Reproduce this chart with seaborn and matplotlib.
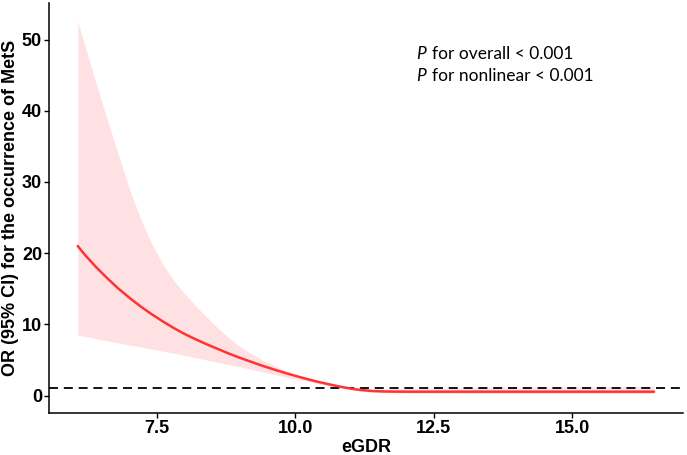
import numpy as np
import pandas as pd
import matplotlib
matplotlib.use("Agg")
import matplotlib.pyplot as plt
import seaborn as sns

egdr = [6.07, 6.2, 6.4, 6.6, 6.8, 7.0, 7.2, 7.4, 7.6, 7.8, 8.0, 8.2, 8.4, 8.6, 8.8,
        9.0, 9.2, 9.4, 9.6, 9.8, 10.0, 10.2, 10.4, 10.6, 10.8, 11.0, 11.2, 11.4,
        11.6, 11.8, 12.0, 12.5, 13.0, 13.5, 14.0, 14.5, 15.0, 15.5, 16.0, 16.48]
odds = [21.0, 19.75, 18.05, 16.5, 15.05, 13.75, 12.55, 11.45, 10.45, 9.5, 8.65, 7.9, 7.2, 6.55, 5.9,
        5.3, 4.75, 4.2, 3.7, 3.22, 2.77, 2.35, 1.95, 1.6, 1.27, 0.98, 0.77, 0.64,
        0.58, 0.56, 0.55, 0.55, 0.55, 0.55, 0.55, 0.55, 0.55, 0.55, 0.55, 0.55]
upper = [52.5, 49.1, 43.9, 38.8, 33.9, 29.1, 24.9, 21.4, 18.5, 16.2, 14.3, 12.6, 11.0, 9.5, 8.1,
         6.9, 5.9, 5.0, 4.3, 3.6, 3.0, 2.5, 2.05, 1.7, 1.4, 1.12, 0.98, 0.93,
         0.95, 1.0, 1.03, 1.08, 1.12, 1.15, 1.17, 1.2, 1.22, 1.25, 1.27, 1.3]
lower = [8.5, 8.3, 8.0, 7.7, 7.4, 7.1, 6.85, 6.55, 6.25, 5.95, 5.65, 5.3, 5.0, 4.65, 4.35,
         4.05, 3.7, 3.35, 3.0, 2.65, 2.3, 2.0, 1.7, 1.4, 1.1, 0.82, 0.62, 0.5,
         0.42, 0.38, 0.35, 0.33, 0.31, 0.3, 0.3, 0.3, 0.3, 0.3, 0.3, 0.3]
ref_line = 1
x_ticks = [7.5, 10.0, 12.5, 15.0]
y_ticks = [0, 10, 20, 30, 40, 50]
annot = ["for overall < 0.001", "for nonlinear < 0.001"]

df = pd.DataFrame({"eGDR": egdr, "OR": odds, "upper": upper, "lower": lower})

sns.set_style("ticks")
plt.rcParams['font.family'] = ['Liberation Sans', 'DejaVu Sans']
plt.rcParams['text.color'] = 'black'
plt.rcParams['axes.labelcolor'] = 'black'

fig = plt.figure(figsize=(6.87, 4.55), dpi=100)
ax = fig.add_axes([0.0713, 0.093, 0.9227, 0.9])

ax.fill_between(df["eGDR"], df["lower"], df["upper"], color="#FFE1E3", lw=0, zorder=1)
ax.axhline(ref_line, color="black", lw=1.3, ls=(0, (5, 3.2)), zorder=2)
sns.lineplot(data=df, x="eGDR", y="OR", color="#FF3333", lw=1.8, ax=ax, zorder=3)

ax.set_xlim(5.55, 17.0)
ax.set_ylim(-2.4, 55.1)
ax.set_xticks(x_ticks)
ax.set_xticklabels([f"{t:.1f}" for t in x_ticks])
ax.set_yticks(y_ticks)
for s in ["top", "right"]:
    ax.spines[s].set_visible(False)
for s in ["left", "bottom"]:
    ax.spines[s].set_linewidth(1.1)
    ax.spines[s].set_color("black")
ax.tick_params(axis="both", length=3.5, width=1.0, color="black", labelsize=13,
               labelcolor="black", pad=1.5)
for lab in ax.get_xticklabels() + ax.get_yticklabels():
    lab.set_fontweight("bold")
ax.set_xlabel("eGDR", fontsize=13, fontweight="bold")
ax.set_ylabel("OR (95% CI) for the occurrence of MetS", fontsize=13, fontweight="bold")
ax.xaxis.set_label_coords(0.5, -0.064)
ax.yaxis.set_label_coords(-0.048, 0.5)

for i, t in enumerate(annot):
    yv = 47.9 - i * 3.08
    ax.text(12.18, yv, "P", fontsize=12.5, fontstyle="italic", family=["Lato", "DejaVu Sans"],
            va="center", ha="left")
    ax.text(12.47, yv, t, fontsize=12.5, family=["Lato", "DejaVu Sans"], va="center", ha="left")

fig.savefig("out.png", dpi=100)
